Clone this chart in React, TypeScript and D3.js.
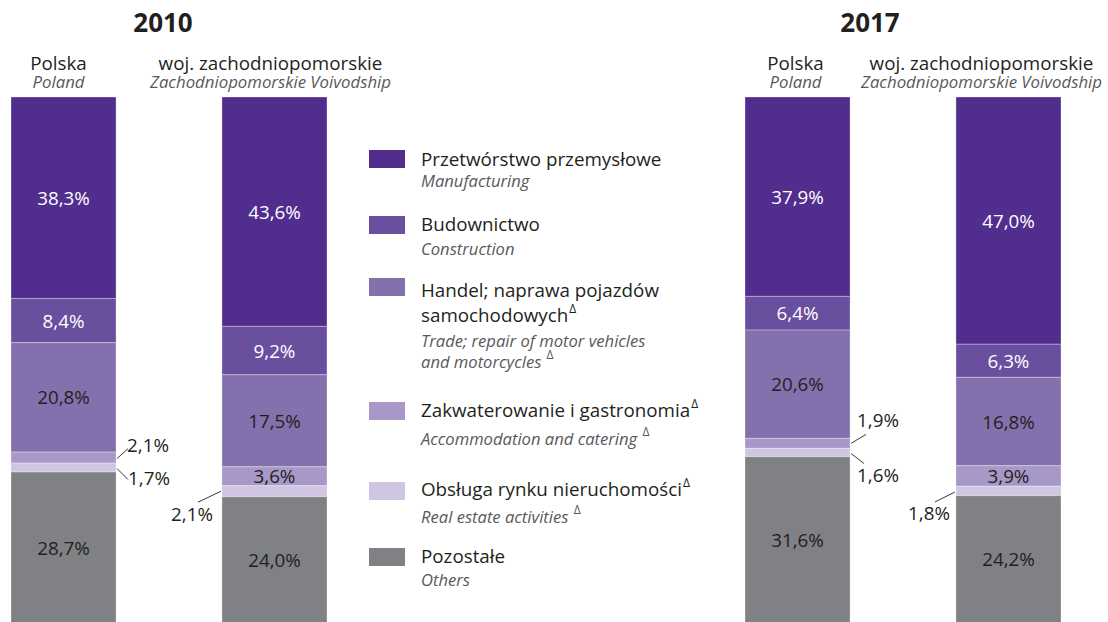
import React from "react";
import * as d3 from "d3";

// ---------- DATA ----------
const categoriesPL = [
  "Przetwórstwo przemysłowe",
  "Budownictwo",
  "Handel; naprawa pojazdów samochodowych",
  "Zakwaterowanie i gastronomia",
  "Obsługa rynku nieruchomości",
  "Pozostałe",
];
const categoriesEN = [
  "Manufacturing",
  "Construction",
  "Trade; repair of motor vehicles and motorcycles",
  "Accommodation and catering",
  "Real estate activities",
  "Others",
];
const categoryDelta = [false, false, true, true, true, false];
const categoryColors = ["#512d8e", "#6a4f9f", "#8570ae", "#a898c8", "#d0c6e1", "#808184"];

const years = ["2010", "2017"];
const regionsPL = ["Polska", "woj. zachodniopomorskie"];
const regionsEN = ["Poland", "Zachodniopomorskie Voivodship"];

const poland2010 = [38.3, 8.4, 20.8, 2.1, 1.7, 28.7];
const zachodnio2010 = [43.6, 9.2, 17.5, 3.6, 2.1, 24.0];
const poland2017 = [37.9, 6.4, 20.6, 1.9, 1.6, 31.6];
const zachodnio2017 = [47.0, 6.3, 16.8, 3.9, 1.8, 24.2];

const columns = [
  { year: "2010", region: 0, values: poland2010 },
  { year: "2010", region: 1, values: zachodnio2010 },
  { year: "2017", region: 0, values: poland2017 },
  { year: "2017", region: 1, values: zachodnio2017 },
];

// ---------- LAYOUT ----------
const W = 1108;
const H = 622;
const FONT = "'Open Sans', 'Noto Sans', sans-serif";
const DARK = "#231f20";
const GREY = "#58595b";

const yearX = d3.scaleOrdinal<string, number>().domain(years).range([11, 745]);
const regionX = d3.scaleBand<number>().domain([0, 1]).range([0, 316]).paddingInner(0.502);
const y = d3.scaleLinear().domain([0, 100]).range([97, 623]);

const yearTitleX = [163, 870];
const headerShift = [[-5, -4], [-2, -27]];

const insideMin = 3.0;
const LABEL_SIZE = 18.8;

// callouts for small segments
const callouts = [
  { col: 0, cat: 3, x1: 1, y1: 1, x2: 12, y2: -9, tx: 11, ty: -6, anchor: "start" },
  { col: 0, cat: 4, x1: 1, y1: 1, x2: 12, y2: 12, tx: 12, ty: 17, anchor: "start" },
  { col: 1, cat: 4, x1: -1, y1: 0, x2: -24, y2: 11, tx: -9, ty: 30, anchor: "end" },
  { col: 2, cat: 3, x1: 1, y1: 0, x2: 16, y2: -9, tx: 7, ty: -16, anchor: "start" },
  { col: 2, cat: 4, x1: 1, y1: 1, x2: 14, y2: 11, tx: 7, ty: 29, anchor: "start" },
  { col: 3, cat: 4, x1: -1, y1: 1, x2: -21, y2: 11, tx: -6, ty: 29, anchor: "end" },
];

const legendX = 369;
const legendTextX = 421;
const legendSwatchY = [150, 216, 278, 402, 482, 548];
const legendPLLines = [
  [["Przetwórstwo przemysłowe", false]],
  [["Budownictwo", false]],
  [["Handel; naprawa pojazdów", false], ["samochodowych", true]],
  [["Zakwaterowanie i gastronomia", true]],
  [["Obsługa rynku nieruchomości", true]],
  [["Pozostałe", false]],
];
const legendENLines = [
  [["Manufacturing", false]],
  [["Construction", false]],
  [["Trade; repair of motor vehicles", false], ["and motorcycles ", true]],
  [["Accommodation and catering ", true]],
  [["Real estate activities ", true]],
  [["Others", false]],
];
const legendPLBase = [[166], [231], [297, 322], [417], [496], [563]];
const legendENBase = [[187], [255], [347, 368], [445], [523], [586]];

const fmt = (v: number) => v.toFixed(1).replace(".", ",") + "%";

function Delta({ size }: { size: number }) {
  return (
    <tspan fontSize={size} dy={-9} dx={1} fontStyle="normal">
      Δ
    </tspan>
  );
}

export default function App() {
  return (
    <svg width={W} height={H} style={{ display: "block", position: "absolute", left: 0, top: 0 }} fontFamily={FONT}>
      <rect width={W} height={H} fill="#fff" />
      {years.map((yr, i) => (
        <text key={yr} x={yearTitleX[i]} y={32} textAnchor="middle" fontWeight={700} fontSize={26} fill={DARK}>
          {yr}
        </text>
      ))}
      {columns.map((c, ci) => {
        const x0 = yearX(c.year) + (regionX(c.region) as number);
        const bw = regionX.bandwidth();
        const cum = d3.cumsum(c.values);
        const yi = years.indexOf(c.year);
        const cx = x0 + bw / 2 + headerShift[yi][c.region];
        return (
          <g key={ci}>
            <text x={cx} y={70} textAnchor="middle" fontSize={18.8} fill={DARK}>
              {regionsPL[c.region]}
            </text>
            <text x={cx} y={88} textAnchor="middle" fontSize={16.8} fontStyle="italic" fill={GREY}>
              {regionsEN[c.region]}
            </text>
            {c.values.map((v, k) => {
              const top = y(cum[k] - v);
              const bot = y(cum[k]);
              return (
                <rect
                  key={k}
                  x={x0}
                  y={top}
                  width={bw}
                  height={bot - top}
                  fill={categoryColors[k]}
                  stroke="#ffffff"
                  strokeOpacity={0.3}
                  strokeWidth={1}
                />
              );
            })}
            {c.values.map((v, k) => {
              if (v < insideMin) return null;
              const mid = (y(cum[k] - v) + y(cum[k])) / 2;
              return (
                <text
                  key={"l" + k}
                  x={x0 + bw / 2}
                  y={mid + 7}
                  textAnchor="middle"
                  fontSize={LABEL_SIZE}
                  fill={k < 2 ? "#ffffff" : DARK}
                >
                  {fmt(v)}
                </text>
              );
            })}
          </g>
        );
      })}
      {callouts.map((co, i) => {
        const c = columns[co.col];
        const x0 = yearX(c.year) + (regionX(c.region) as number);
        const bw = regionX.bandwidth();
        const cum = d3.cumsum(c.values);
        const v = c.values[co.cat];
        const mid = (y(cum[co.cat] - v) + y(cum[co.cat])) / 2;
        const edge = co.anchor === "start" ? x0 + bw : x0;
        return (
          <g key={"c" + i}>
            <line
              x1={edge + co.x1}
              y1={mid + co.y1}
              x2={edge + co.x2}
              y2={mid + co.y2}
              stroke={DARK}
              strokeWidth={0.9}
            />
            <text x={edge + co.tx} y={mid + co.ty} textAnchor={co.anchor} fontSize={LABEL_SIZE} fill={DARK}>
              {fmt(v)}
            </text>
          </g>
        );
      })}
      {categoriesPL.map((cat, k) => (
        <g key={"lg" + k}>
          <rect x={legendX} y={legendSwatchY[k]} width={36} height={18} fill={categoryColors[k]} />
          {legendPLLines[k].map(([t, d], j) => (
            <text key={"p" + j} x={legendTextX} y={legendPLBase[k][j]} fontSize={18.8} fill={DARK}>
              {t as string}
              {d ? <Delta size={12} /> : null}
            </text>
          ))}
          {legendENLines[k].map(([t, d], j) => (
            <text
              key={"e" + j}
              x={legendTextX}
              y={legendENBase[k][j]}
              fontSize={16.6}
              fontStyle="italic"
              fill={GREY}
            >
              {t as string}
              {d ? <Delta size={12} /> : null}
            </text>
          ))}
        </g>
      ))}
    </svg>
  );
}
